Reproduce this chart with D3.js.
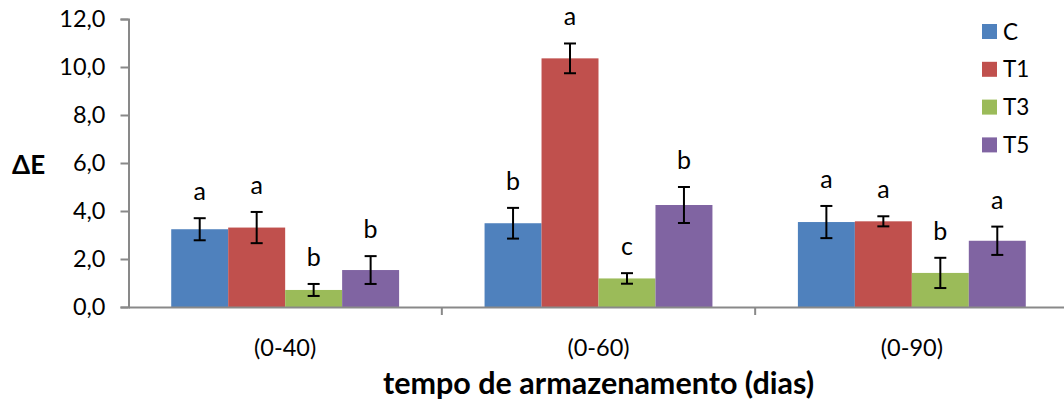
<!DOCTYPE html>
<html>
<head>
<meta charset="utf-8">
<script src="https://cdn.jsdelivr.net/npm/d3@7"></script>
<style>
  html, body { margin: 0; padding: 0; background: #fff; }
  svg { display: block; font-family: Lato, "Open Sans", sans-serif; }
</style>
</head>
<body>
<svg id="chart" width="1064" height="402"></svg>
<script>
// Storage periods and treatments
const categories = ["(0-40)", "(0-60)", "(0-90)"];
const series = ["C", "T1", "T3", "T5"];

// Mean ΔE per treatment, one value per storage period
const valC  = [3.24, 3.49, 3.54];
const valT1 = [3.31, 10.36, 3.57];
const valT3 = [0.71, 1.19, 1.42];
const valT5 = [1.54, 4.25, 2.76];

// Standard deviations (error bars)
const errC  = [0.46, 0.64, 0.67];
const errT1 = [0.65, 0.62, 0.21];
const errT3 = [0.25, 0.22, 0.63];
const errT5 = [0.58, 0.75, 0.59];

// Significance letters
const sigC  = ["a", "b", "a"];
const sigT1 = ["a", "a", "a"];
const sigT3 = ["b", "c", "b"];
const sigT5 = ["b", "b", "a"];

const yTicks = [0, 2, 4, 6, 8, 10, 12];
const yLabel = "ΔE";
const xLabel = "tempo de armazenamento (dias)";

const colors = ["#4F81BD", "#C0504D", "#9BBB59", "#8064A2"];

const values = [valC, valT1, valT3, valT5];
const errors = [errC, errT1, errT3, errT5];
const letters = [sigC, sigT1, sigT3, sigT5];

const rows = [];
series.forEach((s, si) => {
  categories.forEach((c, ci) => {
    rows.push({ s, c, si, v: values[si][ci], e: errors[si][ci], l: letters[si][ci] });
  });
});

const svg = d3.select("#chart");
const plotLeft = 128.5, plotRight = 1068.5, plotTop = 19, plotBottom = 307;

const x0 = d3.scaleBand().domain(categories).range([plotLeft, plotRight]).padding(0);
const x1 = d3.scaleBand().domain(series).range([0, x0.bandwidth()])
  .paddingInner(0).paddingOuter(0.75);
const y = d3.scaleLinear().domain([0, 12]).range([plotBottom, plotTop]);
const color = d3.scaleOrdinal().domain(series).range(colors);

const locale = d3.formatLocale({ decimal: ",", thousands: ".", grouping: [3], currency: ["", ""] });
const fmt = locale.format(".1f");

// Bars
svg.append("g").selectAll("rect").data(rows).join("rect")
  .attr("x", d => x0(d.c) + x1(d.s))
  .attr("y", d => y(d.v))
  .attr("width", x1.bandwidth())
  .attr("height", d => y(0) - y(d.v))
  .attr("fill", d => color(d.s));

// Error bars
const eb = svg.append("g").attr("stroke", "#000").attr("stroke-width", 2);
rows.forEach(d => {
  const cx = x0(d.c) + x1(d.s) + x1.bandwidth() / 2;
  eb.append("line").attr("x1", cx).attr("x2", cx).attr("y1", y(d.v + d.e)).attr("y2", y(d.v - d.e));
  eb.append("line").attr("x1", cx - 6).attr("x2", cx + 6).attr("y1", y(d.v + d.e)).attr("y2", y(d.v + d.e));
  eb.append("line").attr("x1", cx - 6).attr("x2", cx + 6).attr("y1", y(d.v - d.e)).attr("y2", y(d.v - d.e));
});

// Significance letters
svg.append("g").selectAll("text").data(rows).join("text")
  .attr("x", d => x0(d.c) + x1(d.s) + x1.bandwidth() / 2)
  .attr("y", d => y(d.v + d.e) - 18)
  .attr("text-anchor", "middle")
  .attr("font-size", 25)
  .attr("fill", "#000")
  .text(d => d.l);

// Y axis
const yAxis = svg.append("g")
  .attr("transform", `translate(${plotLeft},0)`)
  .call(d3.axisLeft(y).tickValues(yTicks).tickFormat(fmt).tickSize(8).tickPadding(15));
yAxis.select(".domain").attr("stroke", "#898989").attr("stroke-width", 2);
yAxis.selectAll(".tick line").attr("stroke", "#898989").attr("stroke-width", 2);
yAxis.selectAll(".tick text").attr("font-size", 23.5).attr("font-family", "Lato").attr("fill", "#000");

// X axis
const xAxis = svg.append("g")
  .attr("transform", `translate(0,${plotBottom})`)
  .call(d3.axisBottom(x0).tickSize(0).tickPadding(0).tickSizeOuter(0));
xAxis.select(".domain").attr("stroke", "#898989").attr("stroke-width", 2);
xAxis.selectAll(".tick text").attr("font-size", 23.5).attr("font-family", "Lato")
  .attr("fill", "#000").attr("dy", null).attr("y", 49);
// category separators
xAxis.append("g").selectAll("line").data(categories.slice(1)).join("line")
  .attr("x1", d => x0(d)).attr("x2", d => x0(d))
  .attr("y1", 0).attr("y2", 8)
  .attr("stroke", "#898989").attr("stroke-width", 2);

// Axis titles
svg.append("text")
  .attr("x", 12).attr("y", 174)
  .attr("font-size", 26).attr("font-weight", "bold").attr("fill", "#000")
  .text(yLabel);

svg.append("text")
  .attr("x", (plotLeft + plotRight) / 2).attr("y", 394)
  .attr("text-anchor", "middle")
  .attr("font-size", 30.5).attr("font-weight", "bold").attr("fill", "#000")
  .text(xLabel);

// Legend
const legend = svg.append("g").attr("transform", "translate(982,24)");
series.forEach((s, i) => {
  const g = legend.append("g").attr("transform", `translate(0,${i * 37.8})`);
  g.append("rect").attr("width", 15).attr("height", 15).attr("fill", color(s));
  g.append("text").attr("x", 21).attr("y", 15.5)
    .attr("font-size", 22.5).attr("fill", "#000").text(s);
});
</script>
</body>
</html>
